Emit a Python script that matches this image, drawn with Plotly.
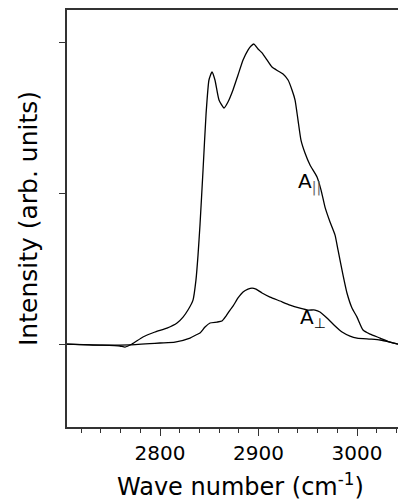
import plotly.graph_objects as go

# A-parallel spectrum (wave number, intensity)
wn_par = [2705.6, 2739.1, 2759.4, 2764.5, 2771.6, 2782.7, 2794.9, 2807.1, 2817.3, 2823.4,
          2828.4, 2833.5, 2836.5, 2838.6, 2840.6, 2843.7, 2846.7, 2849.7, 2852.8, 2855.8,
          2859.9, 2865.0, 2869.0, 2874.1, 2879.2, 2884.3, 2889.3, 2892.4, 2895.4, 2899.5,
          2903.6, 2908.6, 2913.7, 2919.8, 2924.9, 2930.0, 2934.0, 2937.1, 2940.1, 2943.1,
          2947.2, 2952.3, 2959.4, 2963.5, 2967.5, 2972.6, 2977.7, 2980.7, 2985.8, 2989.8,
          2994.9, 3000.0, 3006.1, 3013.2, 3023.4, 3033.5, 3041.6]
int_par = [0.0, -0.007, -0.013, -0.02, 0.0, 0.047, 0.08, 0.106, 0.14, 0.179,
           0.226, 0.292, 0.425, 0.591, 0.791, 1.156, 1.522, 1.754, 1.807, 1.754,
           1.621, 1.568, 1.608, 1.688, 1.787, 1.887, 1.953, 1.980, 1.993, 1.960,
           1.934, 1.887, 1.840, 1.814, 1.794, 1.754, 1.688, 1.621, 1.488, 1.355,
           1.269, 1.189, 1.110, 1.023, 0.910, 0.811, 0.724, 0.625, 0.458, 0.339,
           0.239, 0.179, 0.093, 0.066, 0.040, 0.013, 0.0]

# A-perpendicular spectrum
wn_perp = [2705.6, 2739.1, 2769.5, 2800.0, 2815.2, 2830.5, 2836.5, 2840.6, 2845.7, 2850.8,
           2857.9, 2862.9, 2867.0, 2871.1, 2874.1, 2879.2, 2884.3, 2889.3, 2893.4, 2897.5,
           2903.6, 2911.7, 2921.8, 2932.0, 2942.1, 2950.3, 2957.4, 2962.4, 2969.5, 2977.7,
           2984.8, 2992.9, 3000.0, 3013.2, 3023.4, 3033.5, 3041.6]
int_perp = [0.0, -0.007, -0.005, 0.007, 0.013, 0.04, 0.06, 0.073, 0.113, 0.14,
            0.146, 0.153, 0.186, 0.226, 0.252, 0.306, 0.346, 0.365, 0.372, 0.365,
            0.339, 0.312, 0.286, 0.259, 0.239, 0.226, 0.226, 0.213, 0.173, 0.120,
            0.080, 0.053, 0.040, 0.033, 0.027, 0.013, 0.0]

x_ticks = [2800, 2900, 3000]
x_ticklabels = ["2800", "2900", "3000"]
y_ticks = [0, 1, 2]

FONT = "DejaVu Sans"

fig = go.Figure()
fig.add_trace(go.Scatter(x=wn_par, y=int_par, mode="lines",
                         line=dict(color="black", width=1.3, shape="spline", smoothing=0.5),
                         showlegend=False))
fig.add_trace(go.Scatter(x=wn_perp, y=int_perp, mode="lines",
                         line=dict(color="black", width=1.3, shape="spline", smoothing=0.5),
                         showlegend=False))

fig.update_layout(
    width=398, height=503,
    margin=dict(l=67, r=0, t=10, b=76),
    paper_bgcolor="white", plot_bgcolor="white",
    font=dict(family=FONT, color="black"),
    xaxis=dict(range=[2705.6, 3041.6], showgrid=False, zeroline=False,
               showline=True, linecolor="#333", linewidth=1.5, mirror=True,
               ticks="outside", ticklen=7, tickwidth=1, tickcolor="#333",
               tickvals=x_ticks, ticktext=x_ticklabels,
               tickfont=dict(size=20, family=FONT), ticklabelstandoff=0,
               minor=dict(dtick=20, tick0=2700, ticks="outside", ticklen=4,
                          tickwidth=1, tickcolor="#333", showgrid=False)),
    yaxis=dict(range=[-0.551, 2.219], showgrid=False, zeroline=False,
               showline=True, linecolor="#333", linewidth=1.5,
               ticks="outside", ticklen=6, tickwidth=1, tickcolor="#333",
               tickvals=y_ticks, showticklabels=False),
    annotations=[
        dict(text="A<sub><span style='color:#666'>||</span></sub>", x=2952, y=1.07,
             xref="x", yref="y", showarrow=False, font=dict(size=20, family=FONT)),
        dict(text="A<sub>⊥</sub>", x=2955, y=0.175, xref="x", yref="y",
             showarrow=False, font=dict(size=20, family=FONT)),
        dict(text="Wave number (cm<sup>-1</sup>)", x=0.523, y=-0.140,
             xref="paper", yref="paper", showarrow=False,
             xanchor="center", yanchor="middle", font=dict(size=24, family=FONT)),
        dict(text="Intensity (arb. units)", x=-0.118, y=0.501, textangle=-90,
             xref="paper", yref="paper", showarrow=False,
             xanchor="center", yanchor="middle", font=dict(size=25, family=FONT)),
    ],
)

fig.write_html("out.html")
